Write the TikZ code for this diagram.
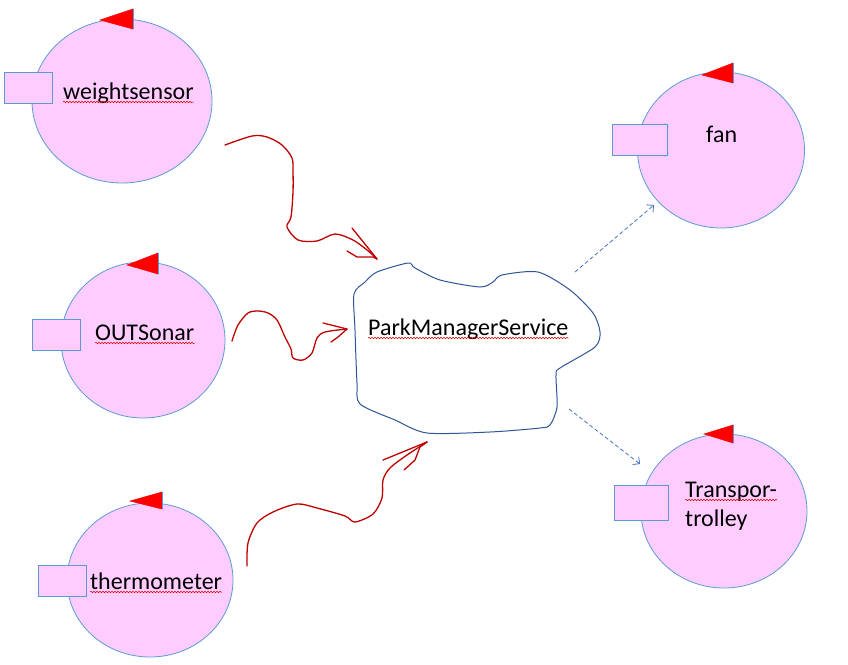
\documentclass[tikz,border=0pt]{standalone}
\usepackage{fontspec}
\setmainfont{Carlito}
\usetikzlibrary{shapes.geometric,arrows.meta,decorations.pathmorphing}
\definecolor{pinkfill}{HTML}{FFCCFF}
\definecolor{edgeblue}{HTML}{5B9BD5}
\definecolor{cloudblue}{HTML}{2F5597}
\definecolor{penred}{HTML}{C00000}
\definecolor{dashblue}{HTML}{4472C4}
\begin{document}
\begin{tikzpicture}[x=1pt,y=-1pt,
  actor/.style={ellipse,draw=edgeblue,fill=pinkfill,line width=0.8pt,inner sep=0pt},
  port/.style={rectangle,draw=edgeblue,fill=pinkfill,line width=0.8pt,inner sep=0pt,minimum width=48pt,minimum height=31pt},
  lbl/.style={inner sep=0pt,anchor=base west,font=\fontsize{24}{29}\selectfont},
  squig/.style={draw=red!85!black,line width=0.5pt,decorate,decoration={snake,amplitude=0.8pt,segment length=3pt}},
  flagtri/.style={fill=red,draw=red,line width=0.5pt},
  flagpole/.style={draw=edgeblue,line width=0.8pt},
  penline/.style={draw=penred,line width=1.3pt,line cap=round,line join=round},
  cloudline/.style={draw=cloudblue,line width=1pt},
  dasharrow/.style={draw=dashblue,line width=0.8pt,dash pattern=on 4pt off 2.5pt,-{Straight Barb[length=5pt,width=10pt,line width=0.8pt]}}
]
\useasboundingbox (0,0) rectangle (848,664);
\fill[white] (0,0) rectangle (848,664);

% ---------- weightsensor ----------
\node[actor,minimum width=180pt,minimum height=164pt] (ws) at (122,101) {};
\filldraw[flagtri] (100,20) -- (133,9) -- (133,29) -- cycle;
\draw[flagpole] (133,9) -- (133,29);
\node[port] (wsp) at (28.5,88) {};
\node[lbl] (wsl) at (63,99) {weightsensor};
\draw[squig] ([yshift=-3pt]wsl.base west) -- ([yshift=-3pt]wsl.base east);

% ---------- OUTSonar ----------
\node[actor,minimum width=164pt,minimum height=156pt] (os) at (143,340) {};
\filldraw[flagtri] (127,265) -- (158,253) -- (158,274) -- cycle;
\draw[flagpole] (158,253) -- (158,274);
\node[port] (osp) at (56.5,335) {};
\node[lbl] (osl) at (95,340) {OUTSonar};
\draw[squig] ([yshift=-3pt]osl.base west) -- ([yshift=-3pt]osl.base east);

% ---------- thermometer ----------
\node[actor,minimum width=166pt,minimum height=154pt] (th) at (150,580) {};
\filldraw[flagtri] (130,501) -- (162,492) -- (162,509) -- cycle;
\draw[flagpole] (162,492) -- (162,509);
\node[port] (thp) at (62,580.5) {};
\node[lbl] (thl) at (90,589) {thermometer};
\draw[squig] ([yshift=-3pt]thl.base west) -- ([yshift=-3pt]thl.base east);

% ---------- fan ----------
\node[actor,minimum width=167pt,minimum height=156pt] (fan) at (721,150) {};
\filldraw[flagtri] (702,75) -- (733,63) -- (733,83) -- cycle;
\draw[flagpole] (733,63) -- (733,83);
\node[port,minimum width=55pt] (fanp) at (639.5,139.5) {};
\node[lbl] (fanl) at (706,142) {fan};

% ---------- Transpor-trolley ----------
\node[actor,minimum width=166pt,minimum height=154pt] (tt) at (724,511) {};
\filldraw[flagtri] (704,434) -- (733,425) -- (733,443) -- cycle;
\draw[flagpole] (733,425) -- (733,443);
\node[port,minimum width=54pt,minimum height=35pt] (ttp) at (641,502.5) {};
\node[lbl] (ttl1) at (685,497) {Transpor-};
\node[lbl] (ttl2) at (685,526) {trolley};
\draw[squig] ([yshift=-3pt]ttl1.base west) -- ([yshift=-3pt]ttl1.base east);

% ---------- ParkManagerService cloud ----------
\draw[cloudline] plot[smooth cycle,tension=0.45] coordinates {
 (354,294) (365,282) (377,272) (408,263) (415,268) (440,280) (480,287)
 (493,282) (502,275) (538,272) (570,290) (593,313) (600,332) (595,347)
 (560,368) (556,375) (557,407) (550,425) (540,428) (490,432) (427,433)
 (395,420) (360,404) (357,383) (355,330)};
\node[lbl] (pms) at (368,335) {ParkManagerService};
\draw[squig] ([yshift=-3pt]pms.base west) -- ([yshift=-3pt]pms.base east);

% ---------- red hand-drawn arrows ----------
\coordinate (r1s) at (225,145);
\coordinate (r1e) at (377,259);
\draw[penline] plot[smooth,tension=0.5] coordinates {
 (r1s) (252,136) (267,137) (282,145) (292,158) (293,172) (293,192) (291,217)
 (287,227) (298,240) (317,241) (335,234) (353,240) (367,250) (r1e)};
\draw[penline] (352,228) -- (r1e);
\draw[penline] (347,251) -- (357,257) -- (373,257) -- (r1e);

\coordinate (r2s) at (232,341);
\coordinate (r2e) at (347,329);
\draw[penline] plot[smooth,tension=0.5] coordinates {
 (r2s) (238,325) (248,313) (258,311) (268,313) (277,320) (285,337) (291,349)
 (293,358) (303,360) (312,353) (317,338) (325,332) (r2e)};
\draw[penline] (323,323) -- (r2e);
\draw[penline] (331,342) -- (338,337) -- (r2e);

\coordinate (r3s) at (247,566);
\coordinate (r3e) at (427,442);
\draw[penline] plot[smooth,tension=0.5] coordinates {
 (r3s) (248,543) (257,523) (273,512) (297,504) (317,508) (345,516) (355,522)
 (373,514) (382,498) (383,480) (390,468) (407,455) (r3e)};
\draw[penline] (383,460) -- (r3e);
\draw[penline] (404,470) -- (415,460) -- (420,447) -- (r3e);

% ---------- dashed arrows ----------
\coordinate (d1s) at (575,272);
\coordinate (d1e) at (654,205);
\draw[dasharrow] (d1s) -- (d1e);
\coordinate (d2s) at (569,409);
\coordinate (d2e) at (640,464);
\draw[dasharrow] (d2s) -- (d2e);
\end{tikzpicture}
\end{document}
